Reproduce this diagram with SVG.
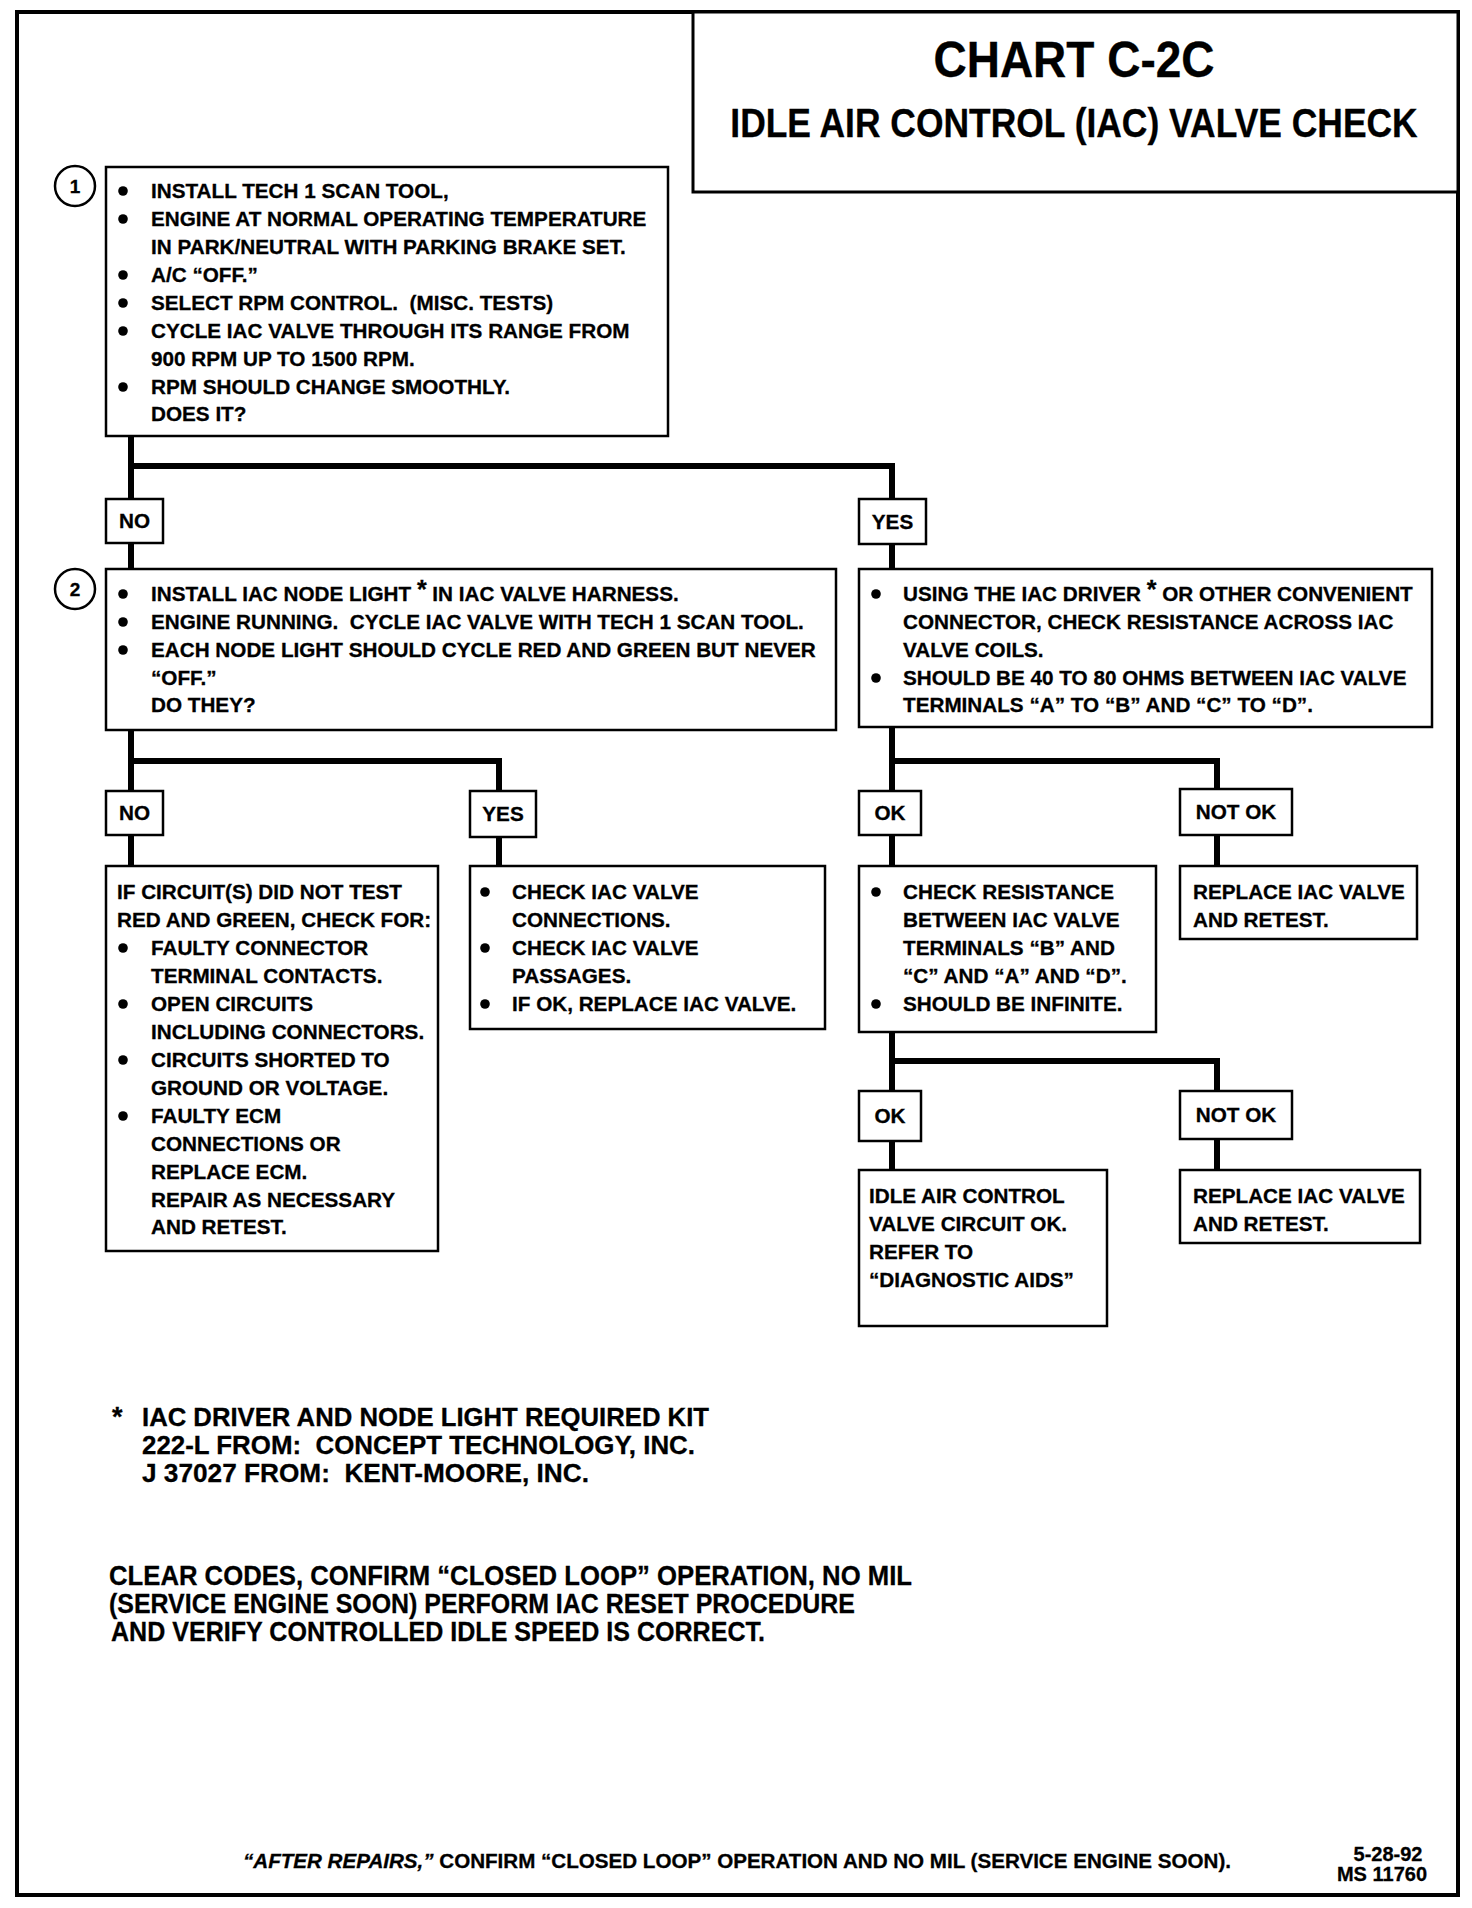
<svg xmlns="http://www.w3.org/2000/svg" width="1472" height="1908" viewBox="0 0 1472 1908">
<style>
.t{font-family:"Liberation Sans",Arial,Helvetica,sans-serif;font-weight:700;font-size:20.7px;fill:#000;stroke:#000;stroke-width:0.3}
.lb{text-anchor:middle}
.ti{font-size:50px}
.st{font-size:40px}
.fn{font-size:26px}
.cl{font-size:27px}
.ft{font-size:20px}
.num{font-size:19px}
.ast{font-size:25px}
.box{fill:#fff;stroke:#000;stroke-width:2.5}
.conn{fill:none;stroke:#000;stroke-width:6;stroke-linejoin:miter;stroke-linecap:butt}
.dot{fill:#000}
.circ{fill:#fff;stroke:#000;stroke-width:2.5}
</style>
<rect x="0" y="0" width="1472" height="1908" fill="#fff"/>
<rect x="17" y="12" width="1441" height="1883" fill="none" stroke="#000" stroke-width="4"/>

<g id="title">
<rect x="693" y="12" width="765" height="180" fill="#fff" stroke="#000" stroke-width="3"/>
<text class="t ti lb" transform="translate(1074,77) scale(0.92,1)" x="0" y="0">CHART C-2C</text>
<text class="t st lb" transform="translate(1074,137) scale(0.886,1)" x="0" y="0">IDLE AIR CONTROL (IAC) VALVE CHECK</text>
</g>

<g id="connectors">
<path class="conn" d="M131,436 V499 M131,466 H892 V499"/>
<path class="conn" d="M131,543 V569 M892,544 V569"/>
<path class="conn" d="M131,730 V791 M131,761 H499 V791"/>
<path class="conn" d="M131,835 V866 M499,837 V866"/>
<path class="conn" d="M892,727 V791 M892,761 H1217 V789"/>
<path class="conn" d="M892,835 V866 M1217,835 V866"/>
<path class="conn" d="M892,1032 V1091 M892,1061 H1217 V1091"/>
<path class="conn" d="M892,1141 V1170 M1217,1139 V1170"/>
</g>

<g id="step1">
<circle class="circ" cx="75" cy="186" r="20"/>
<text class="t num lb" x="75" y="193">1</text>
<rect class="box" x="106" y="167" width="562" height="269"/>
<circle class="dot" cx="123" cy="191" r="4.8"/>
<circle class="dot" cx="123" cy="219" r="4.8"/>
<circle class="dot" cx="123" cy="275" r="4.8"/>
<circle class="dot" cx="123" cy="303" r="4.8"/>
<circle class="dot" cx="123" cy="331" r="4.8"/>
<circle class="dot" cx="123" cy="387" r="4.8"/>
<text class="t" x="151" y="198">INSTALL TECH 1 SCAN TOOL,</text>
<text class="t" x="151" y="226">ENGINE AT NORMAL OPERATING TEMPERATURE</text>
<text class="t" x="151" y="254">IN PARK/NEUTRAL WITH PARKING BRAKE SET.</text>
<text class="t" x="151" y="282">A/C “OFF.”</text>
<text class="t" x="151" y="310">SELECT RPM CONTROL.&#160; (MISC. TESTS)</text>
<text class="t" x="151" y="338">CYCLE IAC VALVE THROUGH ITS RANGE FROM</text>
<text class="t" x="151" y="366">900 RPM UP TO 1500 RPM.</text>
<text class="t" x="151" y="394">RPM SHOULD CHANGE SMOOTHLY.</text>
<text class="t" x="151" y="421">DOES IT?</text>
</g>

<g id="label-no1">
<rect class="box" x="106" y="499" width="57" height="44"/>
<text class="t lb" x="134.5" y="528">NO</text>
</g>
<g id="label-yes1">
<rect class="box" x="859" y="499" width="67" height="45"/>
<text class="t lb" x="892.5" y="529">YES</text>
</g>

<g id="step2">
<circle class="circ" cx="75" cy="589" r="20"/>
<text class="t num lb" x="75" y="596">2</text>
<rect class="box" x="106" y="569" width="730" height="161"/>
<circle class="dot" cx="123" cy="594" r="4.8"/>
<circle class="dot" cx="123" cy="622" r="4.8"/>
<circle class="dot" cx="123" cy="650" r="4.8"/>
<text class="t" x="151" y="601">INSTALL IAC NODE LIGHT <tspan class="ast" dy="-3">*</tspan><tspan dy="3"> IN IAC VALVE HARNESS.</tspan></text>
<text class="t" x="151" y="629">ENGINE RUNNING.&#160; CYCLE IAC VALVE WITH TECH 1 SCAN TOOL.</text>
<text class="t" x="151" y="657">EACH NODE LIGHT SHOULD CYCLE RED AND GREEN BUT NEVER</text>
<text class="t" x="151" y="685">“OFF.”</text>
<text class="t" x="151" y="712">DO THEY?</text>
</g>

<g id="step3">
<rect class="box" x="859" y="569" width="573" height="158"/>
<circle class="dot" cx="876" cy="594" r="4.8"/>
<circle class="dot" cx="876" cy="678" r="4.8"/>
<text class="t" x="903" y="601">USING THE IAC DRIVER <tspan class="ast" dy="-3">*</tspan><tspan dy="3"> OR OTHER CONVENIENT</tspan></text>
<text class="t" x="903" y="629">CONNECTOR, CHECK RESISTANCE ACROSS IAC</text>
<text class="t" x="903" y="657">VALVE COILS.</text>
<text class="t" x="903" y="685">SHOULD BE 40 TO 80 OHMS BETWEEN IAC VALVE</text>
<text class="t" x="903" y="712">TERMINALS “A” TO “B” AND “C” TO “D”.</text>
</g>

<g id="label-no2">
<rect class="box" x="106" y="791" width="57" height="44"/>
<text class="t lb" x="134.5" y="820">NO</text>
</g>
<g id="label-yes2">
<rect class="box" x="470" y="791" width="66" height="46"/>
<text class="t lb" x="503" y="821">YES</text>
</g>
<g id="label-ok1">
<rect class="box" x="859" y="791" width="62" height="44"/>
<text class="t lb" x="890" y="820">OK</text>
</g>
<g id="label-notok1">
<rect class="box" x="1180" y="789" width="112" height="46"/>
<text class="t lb" x="1236" y="819">NOT OK</text>
</g>

<g id="step4">
<rect class="box" x="106" y="866" width="332" height="385"/>
<circle class="dot" cx="123" cy="948" r="4.8"/>
<circle class="dot" cx="123" cy="1004" r="4.8"/>
<circle class="dot" cx="123" cy="1060" r="4.8"/>
<circle class="dot" cx="123" cy="1116" r="4.8"/>
<text class="t" x="117" y="899">IF CIRCUIT(S) DID NOT TEST</text>
<text class="t" x="117" y="927">RED AND GREEN, CHECK FOR:</text>
<text class="t" x="151" y="955">FAULTY CONNECTOR</text>
<text class="t" x="151" y="983">TERMINAL CONTACTS.</text>
<text class="t" x="151" y="1011">OPEN CIRCUITS</text>
<text class="t" x="151" y="1039">INCLUDING CONNECTORS.</text>
<text class="t" x="151" y="1067">CIRCUITS SHORTED TO</text>
<text class="t" x="151" y="1095">GROUND OR VOLTAGE.</text>
<text class="t" x="151" y="1123">FAULTY ECM</text>
<text class="t" x="151" y="1151">CONNECTIONS OR</text>
<text class="t" x="151" y="1179">REPLACE ECM.</text>
<text class="t" x="151" y="1207">REPAIR AS NECESSARY</text>
<text class="t" x="151" y="1234">AND RETEST.</text>
</g>

<g id="step5">
<rect class="box" x="470" y="866" width="355" height="163"/>
<circle class="dot" cx="485" cy="892" r="4.8"/>
<circle class="dot" cx="485" cy="948" r="4.8"/>
<circle class="dot" cx="485" cy="1004" r="4.8"/>
<text class="t" x="512" y="899">CHECK IAC VALVE</text>
<text class="t" x="512" y="927">CONNECTIONS.</text>
<text class="t" x="512" y="955">CHECK IAC VALVE</text>
<text class="t" x="512" y="983">PASSAGES.</text>
<text class="t" x="512" y="1011">IF OK, REPLACE IAC VALVE.</text>
</g>

<g id="step6">
<rect class="box" x="859" y="866" width="297" height="166"/>
<circle class="dot" cx="876" cy="892" r="4.8"/>
<circle class="dot" cx="876" cy="1004" r="4.8"/>
<text class="t" x="903" y="899">CHECK RESISTANCE</text>
<text class="t" x="903" y="927">BETWEEN IAC VALVE</text>
<text class="t" x="903" y="955">TERMINALS “B” AND</text>
<text class="t" x="903" y="983">“C” AND “A” AND “D”.</text>
<text class="t" x="903" y="1011">SHOULD BE INFINITE.</text>
</g>

<g id="step7">
<rect class="box" x="1180" y="866" width="237" height="73"/>
<text class="t" x="1193" y="899">REPLACE IAC VALVE</text>
<text class="t" x="1193" y="927">AND RETEST.</text>
</g>

<g id="label-ok2">
<rect class="box" x="859" y="1091" width="62" height="50"/>
<text class="t lb" x="890" y="1123">OK</text>
</g>
<g id="label-notok2">
<rect class="box" x="1180" y="1091" width="112" height="48"/>
<text class="t lb" x="1236" y="1122">NOT OK</text>
</g>

<g id="step8">
<rect class="box" x="859" y="1170" width="248" height="156"/>
<text class="t" x="869" y="1203">IDLE AIR CONTROL</text>
<text class="t" x="869" y="1231">VALVE CIRCUIT OK.</text>
<text class="t" x="869" y="1259">REFER TO</text>
<text class="t" x="869" y="1287">“DIAGNOSTIC AIDS”</text>
</g>

<g id="step9">
<rect class="box" x="1180" y="1170" width="240" height="73"/>
<text class="t" x="1193" y="1203">REPLACE IAC VALVE</text>
<text class="t" x="1193" y="1231">AND RETEST.</text>
</g>

<g id="notes">
<text class="t cl" x="112" y="1426">*</text>
<text class="t fn" x="142" y="1426" textLength="567" lengthAdjust="spacingAndGlyphs">IAC DRIVER AND NODE LIGHT REQUIRED KIT</text>
<text class="t fn" x="142" y="1454" textLength="553" lengthAdjust="spacingAndGlyphs">222-L FROM:&#160; CONCEPT TECHNOLOGY, INC.</text>
<text class="t fn" x="142" y="1482" textLength="447" lengthAdjust="spacingAndGlyphs">J 37027 FROM:&#160; KENT-MOORE, INC.</text>
<text class="t cl" x="109" y="1585" textLength="803" lengthAdjust="spacingAndGlyphs">CLEAR CODES, CONFIRM “CLOSED LOOP” OPERATION, NO MIL</text>
<text class="t cl" x="109" y="1613" textLength="746" lengthAdjust="spacingAndGlyphs">(SERVICE ENGINE SOON) PERFORM IAC RESET PROCEDURE</text>
<text class="t cl" x="111" y="1641" textLength="654" lengthAdjust="spacingAndGlyphs">AND VERIFY CONTROLLED IDLE SPEED IS CORRECT.</text>
<text class="t ft" x="243" y="1868" textLength="988" lengthAdjust="spacingAndGlyphs"><tspan font-style="italic">“AFTER REPAIRS,”</tspan> CONFIRM “CLOSED LOOP” OPERATION AND NO MIL (SERVICE ENGINE SOON).</text>
<text class="t ft lb" x="1388" y="1861">5-28-92</text>
<text class="t ft lb" x="1382" y="1881">MS 11760</text>
</g>
</svg>
